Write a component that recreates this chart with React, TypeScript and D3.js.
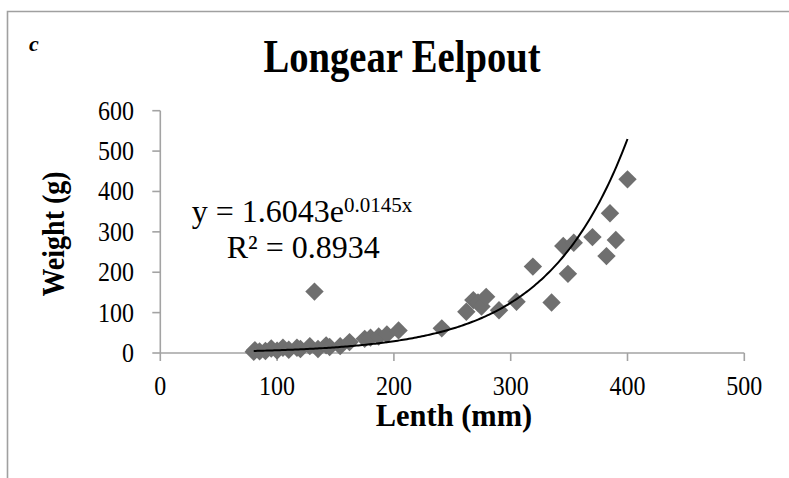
import React from "react";
import * as d3 from "d3";

const lengthMm = [80, 81, 85, 90, 95, 100, 105, 110, 117, 120, 128, 132, 135, 142, 145, 154, 162, 175, 180, 187, 194, 204, 241, 262, 268, 272, 275, 279, 290, 305, 319, 335, 345, 349, 354, 370, 382, 385, 390, 400];
const weightG = [3, 7, 4, 5, 11, 6, 13, 8, 13, 10, 17, 152, 10, 19, 15, 17, 27, 35, 38, 41, 46, 56, 61, 102, 131, 125, 115, 139, 106, 127, 214, 125, 265, 196, 273, 287, 240, 346, 280, 430];
const xTicks = [0, 100, 200, 300, 400, 500];
const yTicks = [0, 100, 200, 300, 400, 500, 600];
const coefA = 1.6043;
const coefB = 0.0145;

export default function App() {
  const x = d3.scaleLinear().domain([0, 500]).range([160.3, 744.3]);
  const y = d3.scaleLinear().domain([0, 600]).range([353, 110.7]);
  const axisColor = "#a3a3a3";
  const serif = "'Liberation Serif', 'Times New Roman', serif";
  const xmin = d3.min(lengthMm) as number;
  const xmax = d3.max(lengthMm) as number;
  const curvePts = d3.range(0, 201).map((i) => xmin + ((xmax - xmin) * i) / 200);
  const line = d3
    .line<number>()
    .x((d) => x(d))
    .y((d) => y(coefA * Math.exp(coefB * d)));
  const r = 9.2;
  const diamond = `M0,${-r}L${r},0L0,${r}L${-r},0Z`;
  return (
    <svg width={789} height={478} style={{ position: "absolute", left: 0, top: 0, background: "#fff" }}>
      <rect x={0} y={0} width={789} height={478} fill="#fff" />
      <path d="M7.5,478 L7.5,11.5 L789,11.5" fill="none" stroke="#a0a0a0" strokeWidth={1.6} />
      <text x={29} y={51} fontFamily={serif} fontStyle="italic" fontWeight="bold" fontSize={22}>c</text>
      <text x={0} y={0} textAnchor="middle" fontFamily={serif} fontWeight="bold" fontSize={46} transform="translate(402,72) scale(0.84,1)">Longear Eelpout</text>
      {/* axes */}
      <line x1={x(0)} x2={x(500)} y1={y(0)} y2={y(0)} stroke={axisColor} strokeWidth={1.6} />
      <line x1={x(0)} x2={x(0)} y1={y(0)} y2={y(600)} stroke={axisColor} strokeWidth={1.6} />
      {xTicks.map((t) => (
        <g key={"xt" + t}>
          <line x1={x(t)} x2={x(t)} y1={y(0)} y2={y(0) + 8} stroke={axisColor} strokeWidth={1.6} />
          <text x={0} y={0} textAnchor="middle" fontFamily={serif} fontSize={24} transform={`translate(${x(t)},395) scale(1,1.12)`}>{t}</text>
        </g>
      ))}
      {yTicks.map((t) => (
        <g key={"yt" + t}>
          <line x1={x(0) - 8} x2={x(0)} y1={y(t)} y2={y(t)} stroke={axisColor} strokeWidth={1.6} />
          <text x={0} y={0} textAnchor="end" fontFamily={serif} fontSize={24} transform={`translate(134,${y(t) + 9}) scale(1,1.12)`}>{t}</text>
        </g>
      ))}
      <text x={0} y={0} textAnchor="middle" fontFamily={serif} fontWeight="bold" fontSize={29} transform="translate(454,426) scale(1.05,1.06)">Lenth (mm)</text>
      <text transform="translate(64,234) rotate(-90) scale(1,1.1)" textAnchor="middle" fontFamily={serif} fontWeight="bold" fontSize={28}>Weight (g)</text>
      {/* points */}
      {lengthMm.map((L, i) => (
        <path key={"p" + i} d={diamond} transform={`translate(${x(L)},${y(weightG[i])})`} fill="#6f6f6f" />
      ))}
      <path d={line(curvePts) || ""} fill="none" stroke="#000" strokeWidth={2} />
      <text x={191.7} y={221.7} fontFamily={serif} fontSize={32}>
        y = 1.6043e<tspan fontSize={21} dy={-10}>0.0145x</tspan>
      </text>
      <text x={226.7} y={257.7} fontFamily={serif} fontSize={32}>R² = 0.8934</text>
    </svg>
  );
}
